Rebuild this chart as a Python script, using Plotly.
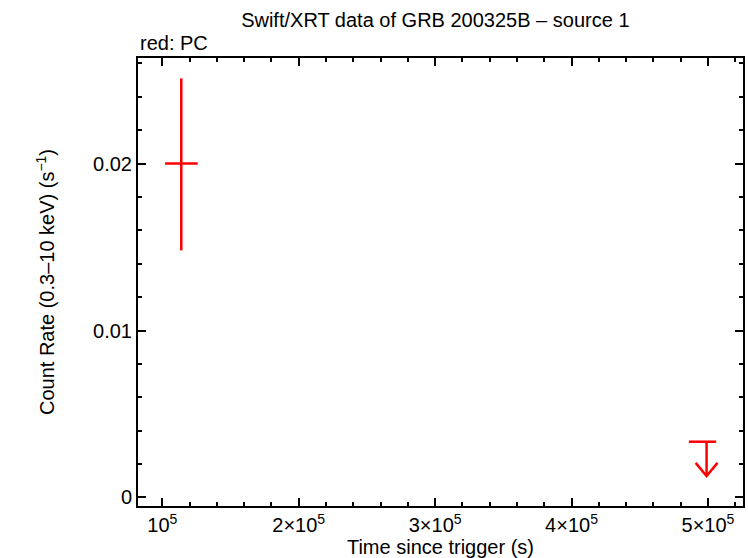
import plotly.graph_objects as go

# Detection (PC mode)
pc_time = [113900]
pc_time_lo = [11900]
pc_time_hi = [12060]
pc_rate = [0.0200]
pc_rate_hi = [0.0051]
pc_rate_lo = [0.0052]

# Upper limit (PC mode)
ul_time = [499000]
ul_time_lo = [13000]
ul_time_hi = [7000]
ul_rate = [0.00334]

x_tickvals = [100000, 200000, 300000, 400000, 500000]
x_ticktext = ["10<sup>5</sup>", "2×10<sup>5</sup>", "3×10<sup>5</sup>", "4×10<sup>5</sup>", "5×10<sup>5</sup>"]
y_tickvals = [0, 0.01, 0.02]
y_ticktext = ["0", "0.01", "0.02"]

RED = "#ff0000"
FONT = "Liberation Sans, Arial, sans-serif"

fig = go.Figure()

fig.add_trace(go.Scatter(
    x=pc_time, y=pc_rate, mode="markers",
    marker=dict(size=1, color=RED, opacity=0),
    error_x=dict(type="data", symmetric=False, array=pc_time_hi, arrayminus=pc_time_lo,
                 color=RED, thickness=2.5, width=0),
    error_y=dict(type="data", symmetric=False, array=pc_rate_hi, arrayminus=pc_rate_lo,
                 color=RED, thickness=2.5, width=0),
    showlegend=False, hoverinfo="skip"))

# Upper limit: horizontal bar + downward arrow
arrow_len = 0.00205
head_dx = 8000
head_dy = 0.00078
fig.add_trace(go.Scatter(
    x=ul_time, y=ul_rate, mode="markers",
    marker=dict(size=1, color=RED, opacity=0),
    error_x=dict(type="data", symmetric=False, array=ul_time_hi, arrayminus=ul_time_lo,
                 color=RED, thickness=2.5, width=0),
    error_y=dict(type="data", symmetric=False, array=[0], arrayminus=[arrow_len],
                 color=RED, thickness=2.5, width=0),
    showlegend=False, hoverinfo="skip"))
for ux, uy in zip(ul_time, ul_rate):
    tip = uy - arrow_len
    fig.add_trace(go.Scatter(
        x=[ux - head_dx, ux, ux + head_dx], y=[tip + head_dy, tip, tip + head_dy],
        mode="lines", line=dict(color=RED, width=2.5),
        showlegend=False, hoverinfo="skip"))

axis_common = dict(
    showline=True, linecolor="black", linewidth=2, mirror="allticks",
    ticks="inside", ticklen=8, tickwidth=2, tickcolor="black",
    showgrid=False, zeroline=False, automargin=False,
    tickfont=dict(family=FONT, size=20, color="black"),
)

fig.update_xaxes(
    range=[82180, 525700], tickmode="array", tickvals=x_tickvals, ticktext=x_ticktext,
    minor=dict(dtick=20000, tick0=0, ticks="inside", ticklen=4, tickwidth=2, tickcolor="black"),
    title=dict(text="Time since trigger (s)", font=dict(family=FONT, size=20, color="black"), standoff=0),
    **axis_common)
fig.update_yaxes(
    range=[-0.00051, 0.02632], tickmode="array", tickvals=y_tickvals, ticktext=y_ticktext,
    minor=dict(dtick=0.002, tick0=0, ticks="inside", ticklen=4, tickwidth=2, tickcolor="black"),
    title=dict(text="Count Rate (0.3–10 keV) (s<sup>−1</sup>)", font=dict(family=FONT, size=20, color="black"), standoff=33),
    **axis_common)

fig.update_layout(
    width=748, height=558,
    margin=dict(l=138, r=5, t=58, b=52, autoexpand=False),
    paper_bgcolor="white", plot_bgcolor="white",
    title=dict(text="Swift/XRT data of GRB 200325B – source 1", x=0.582, xanchor="center",
               y=0.965, yanchor="middle", automargin=False,
               font=dict(family=FONT, size=20, color="black")),
    annotations=[dict(text="red: PC", xref="paper", yref="paper", x=0, y=1, xanchor="left",
                      yanchor="bottom", yshift=2, showarrow=False,
                      font=dict(family=FONT, size=20, color="black"))],
)

fig.write_html("out.html", config={"displayModeBar": False},
               post_script="document.body.style.margin='0';")
